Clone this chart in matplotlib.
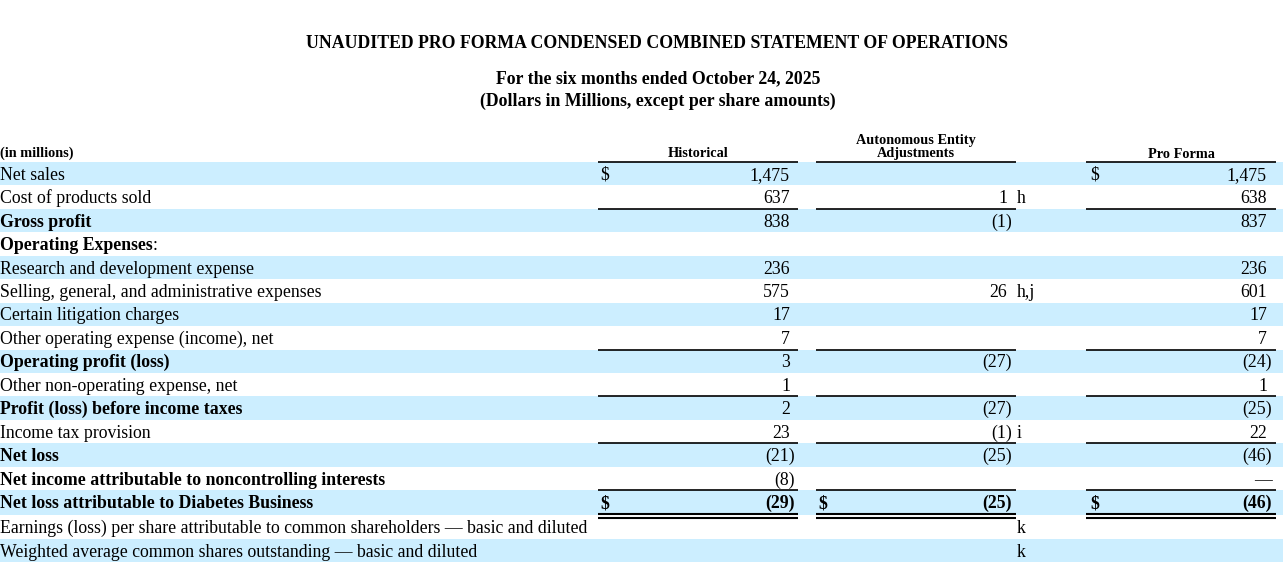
import matplotlib
matplotlib.use("Agg")
import matplotlib.pyplot as plt

plt.rcParams['font.family'] = ['Liberation Serif', 'DejaVu Serif']

# table content
title = "UNAUDITED PRO FORMA CONDENSED COMBINED STATEMENT OF OPERATIONS"
subtitle1 = "For the six months ended October 24, 2025"
subtitle2 = "(Dollars in Millions, except per share amounts)"

col_headers = ["Historical", "Autonomous Entity\nAdjustments", "Pro Forma"]

labels = [
    "Net sales",
    "Cost of products sold",
    "Gross profit",
    "Operating Expenses",
    "Research and development expense",
    "Selling, general, and administrative expenses",
    "Certain litigation charges",
    "Other operating expense (income), net",
    "Operating profit (loss)",
    "Other non-operating expense, net",
    "Profit (loss) before income taxes",
    "Income tax provision",
    "Net loss",
    "Net income attributable to noncontrolling interests",
    "Net loss attributable to Diabetes Business",
    "Earnings (loss) per share attributable to common shareholders \u2014 basic and diluted",
    "Weighted average common shares outstanding \u2014 basic and diluted",
]
historical = [1475, 637, 838, None, 236, 575, 17, 7, 3, 1, 2, 23, -21, -8, -29, None, None]
adjustments = [None, 1, -1, None, None, 26, None, None, -27, None, -27, -1, -25, None, -25, None, None]
pro_forma = [1475, 638, 837, None, 236, 601, 17, 7, -24, 1, -25, 22, -46, 0, -46, None, None]
notes = ["", "h", "", "", "", "h,j", "", "", "", "", "", "i", "", "", "", "k", "k"]
bold_labels = [2, 3, 8, 10, 12, 13, 14]
bold_values = [14]
dollar_rows = {0: [0, 2], 14: [0, 1, 2]}
# rows with a rule on top of the cell
rule_rows = [2, 8, 10, 12, 14]

BLUE = "#CCEEFF"
FS = 12.75
TFS = 12.8
HFS = 10.3

# layout in pixels
W, H = 1286, 567
fig = plt.figure(figsize=(W / 100, H / 100), dpi=100)
ax = fig.add_axes([0, 0, 1, 1])
ax.set_xlim(0, W)
ax.set_ylim(H, 0)
ax.axis("off")

# column geometry: (line start, line end, dollar x, right edge of numbers)
cols = [(598, 798, 600, 790), (816, 1016, 818, 1007), (1086, 1276, 1090, 1267)]
note_x = 1017

tops = []
y = 162.0
for i in range(len(labels)):
    tops.append(y)
    y += 25 if i == 14 else 23.45
tops.append(y)

for i in range(len(labels)):
    if i % 2 == 0:
        ax.add_patch(plt.Rectangle((0, tops[i]), 1283, tops[i + 1] - tops[i],
                                   facecolor=BLUE, edgecolor="none", zorder=0))

fig.canvas.draw()
renderer = fig.canvas.get_renderer()


def fmt(v):
    if v == 0:
        return "\u2014"
    if v < 0:
        return "({:,})".format(-v)
    return "{:,}".format(v)


for i, lab in enumerate(labels):
    base = tops[i] + 17.8
    weight = "bold" if i in bold_labels else "normal"
    t = ax.text(0, base, lab, fontsize=FS, fontweight=weight, va="baseline", ha="left")
    if i == 3:
        bb = t.get_window_extent(renderer)
        ax.text(bb.x1, base, ":", fontsize=FS, va="baseline", ha="left")
    vweight = "bold" if i in bold_values else "normal"
    for c, series in enumerate([historical, adjustments, pro_forma]):
        v = series[i]
        if v is None:
            continue
        x_r = cols[c][3]
        if v <= 0:
            x_r += 5
        ax.text(x_r, base, fmt(v), fontsize=FS, fontweight=vweight, va="baseline", ha="right")
    for c in dollar_rows.get(i, []):
        ax.text(cols[c][2], base, "$", fontsize=FS, fontweight=vweight, va="baseline", ha="left")
    if notes[i]:
        ax.text(note_x, base, notes[i], fontsize=FS, va="baseline", ha="left")

# rules
for c in cols:
    ax.hlines(162, c[0], c[1], color="black", lw=1.2)
    for r in rule_rows:
        ax.hlines(tops[r], c[0], c[1], color="black", lw=1.2)
    ax.hlines(tops[15] - 0.8, c[0], c[1], color="black", lw=1.5)
    ax.hlines(tops[15] + 3, c[0], c[1], color="black", lw=1.5)

# titles and headers
ax.text(657, 48, title, fontsize=TFS, fontweight="bold", ha="center", va="baseline")
ax.text(658, 83, subtitle1, fontsize=TFS, fontweight="bold", ha="center", va="baseline")
ax.text(658, 106, subtitle2, fontsize=TFS, fontweight="bold", ha="center", va="baseline")

ax.text(0, 157, "(in millions)", fontsize=HFS, fontweight="bold", ha="left", va="baseline")
ax.text(698, 157, col_headers[0], fontsize=HFS, fontweight="bold", ha="center", va="baseline")
ax.text(916, 157, col_headers[1], fontsize=HFS, fontweight="bold", ha="center", va="baseline",
        linespacing=1.0, multialignment="center")
ax.text(1181, 158, col_headers[2], fontsize=HFS, fontweight="bold", ha="center", va="baseline")

fig.savefig("out.png", dpi=100)
